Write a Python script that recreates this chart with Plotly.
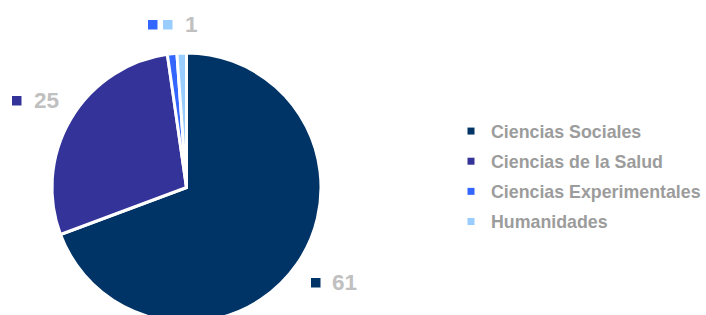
import plotly.graph_objects as go

# ---- data ----
categories = ["Ciencias Sociales", "Ciencias de la Salud", "Ciencias Experimentales", "Humanidades"]
values = [61, 25, 1, 1]
colors = ["#003366", "#333399", "#3366FF", "#99CCFF"]

# label groups (the two tiny slices share one label, as in the original)
label_groups = [[0], [1], [2, 3]]

W, H = 706, 330
LABEL_GREY = "#C0C0C0"
LEGEND_GREY = "#9C9C9C"


def fx(px):
    return px / W


def fy(py):
    return (H - py) / H


fig = go.Figure()
fig.add_trace(go.Pie(
    labels=categories, values=values, sort=False, direction="clockwise", rotation=0,
    marker=dict(colors=colors, line=dict(color="white", width=3)),
    textinfo="none", hoverinfo="label+value", showlegend=False,
    domain=dict(x=[fx(52), fx(321)], y=[fy(322), fy(53)]),
))

# legend entries with small square keys
for c, col in zip(categories, colors):
    fig.add_trace(go.Scatter(
        x=[None], y=[None], mode="markers", name=c, legendgroup=c,
        marker=dict(symbol="square", size=7, color=col), showlegend=True,
    ))

# data labels: square keys + value
label_number_pos = [(330, 282), (31.5, 101), (183, 24)]
label_square_pos = [[(311, 278)], [(12, 96)], [(148, 20), (163, 20)]]
SQ = 9.5
shapes = []
annotations = []
for grp, (nx, ny), sqs in zip(label_groups, label_number_pos, label_square_pos):
    for idx, (sx, sy) in zip(grp, sqs):
        shapes.append(dict(type="rect", xref="paper", yref="paper",
                           x0=fx(sx), x1=fx(sx + SQ), y0=fy(sy + SQ), y1=fy(sy),
                           fillcolor=colors[idx], line=dict(width=0)))
    annotations.append(dict(
        xref="paper", yref="paper", x=fx(nx), y=fy(ny), xanchor="left", yanchor="middle",
        text=str(values[grp[0]]), showarrow=False,
        font=dict(family="Liberation Sans", size=22.5, color=LABEL_GREY, weight="bold"),
    ))

fig.update_layout(
    width=W, height=H,
    margin=dict(l=0, r=0, t=0, b=0),
    paper_bgcolor="white", plot_bgcolor="white",
    xaxis=dict(visible=False), yaxis=dict(visible=False),
    shapes=shapes, annotations=annotations,
    showlegend=True,
    legend=dict(
        x=fx(451), y=fy(113), xanchor="left", yanchor="top",
        font=dict(family="Liberation Sans", size=17.8, color=LEGEND_GREY, weight="bold"),
        tracegroupgap=4, traceorder="grouped", bgcolor="rgba(0,0,0,0)",
    ),
    hovermode=False,
)

fig.write_html(
    "out.html",
    config={"displayModeBar": False},
    post_script=(
        "document.documentElement.style.overflow='hidden';"
        "document.body.style.overflow='hidden';"
        "document.body.style.margin='0';"
    ),
)
